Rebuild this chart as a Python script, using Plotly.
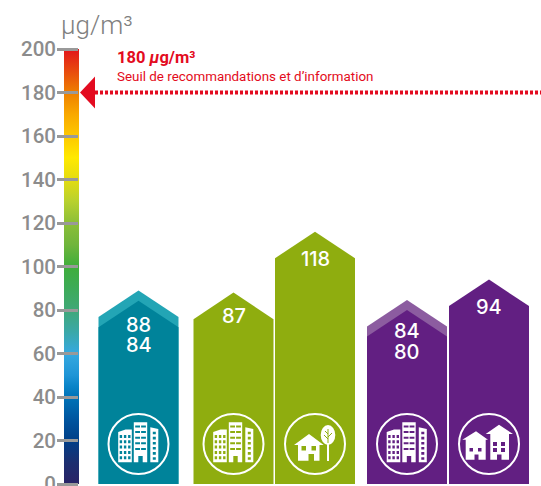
import plotly.graph_objects as go

# ---- data ----
tick_values = [0, 20, 40, 60, 80, 100, 120, 140, 160, 180, 200]
threshold = 180
unit_label = "µg/m³"
threshold_title = "180 <i>µ</i>g/m³"
threshold_text = "Seuil de recommandations et d’information"

bar_centers = [138.5, 233.5, 315, 407, 489]
bar_colors = ["#00839a", "#8fad0f", "#8fad0f", "#621f82", "#621f82"]
back_colors = ["#23a5b5", None, None, "#8c5ca0", None]
front_tops = [84.3, 88, 116, 80, 94]
back_tops = [89, None, None, 84.6, None]
label_rows = [["88", "84"], ["87"], ["118"], ["84", "80"], ["94"]]
label_px = [[325, 345], [316], [259], [331, 352], [307]]
icons = ["towers", "towers", "house_tree", "towers", "houses"]

grad_values = [0, 10, 20, 30, 40, 45, 50, 60, 70, 80, 90, 100, 110, 120, 130, 140, 150, 160, 170, 180, 200]
grad_colors = ["#2a2266", "#1c2f70", "#003f88", "#0056a0", "#0073b8", "#0a84c8", "#1f95d6", "#36a9e0",
               "#3aa8a8", "#40a878", "#3dab58", "#3fae3a", "#70b53c", "#8cbf38", "#b8d12e", "#e4dc10",
               "#ffe900", "#fdc800", "#f9a800", "#ee7f00", "#e2141c"]

# ---- geometry helpers ----
Y0 = 484.0
K = 2.175
W, H = 541, 486


def Yd(py):
    return (Y0 - py) / K


def poly(pts):
    return "M" + " L".join(f"{x:.2f},{Yd(y):.2f}" for x, y in pts) + " Z"


def rect(x0, y0, x1, y1):
    return poly([(x0, y0), (x1, y0), (x1, y1), (x0, y1)])


def shape_fill(path, color="white"):
    return dict(type="path", path=path, fillcolor=color, line=dict(width=0), layer="above",
                xref="x", yref="y")


def towers(cx, cy, bg):
    p = []
    # left building
    p.append(poly([(cx - 20.3, cy - 12), (cx - 13, cy - 14.5), (cx - 6.7, cy - 14.5),
                   (cx - 6.7, cy + 18.3), (cx - 20.3, cy + 18.3)]))
    for r in range(5):
        for c in range(3):
            x = cx - 18.8 + c * 4.2
            y = cy - 9 + r * 5.3
            p.append(rect(x, y, x + 2.4, y + 3.0))
    # middle building
    m = [(cx - 4.7, cy - 21.7), (cx + 8.7, cy - 21.7), (cx + 8.7, cy + 18.3), (cx + 4.2, cy + 18.3),
         (cx + 4.2, cy + 12), (cx - 0.2, cy + 12), (cx - 0.2, cy + 18.3), (cx - 4.7, cy + 18.3)]
    p.append(poly(m))
    for r in range(5):
        for c in range(2):
            x = cx - 3.3 + c * 5.9
            y = cy - 18.5 + r * 5.6
            p.append(rect(x, y, x + 4.8, y + 2.0))
    # right building
    p.append(poly([(cx + 11.8, cy - 16.7), (cx + 19.8, cy - 15), (cx + 19.8, cy + 18.3), (cx + 11.8, cy + 18.3)]))
    for r in range(6):
        y = cy - 12.3 + r * 5.1
        p.append(rect(cx + 14.3, y, cx + 17.3, y + 2.6))
    return [shape_fill(" ".join(p))]


def house_tree(cx, cy, bg):
    p = [poly([(cx - 6, cy - 10), (cx + 8.7, cy + 1), (cx + 4.5, cy + 1), (cx + 4.5, cy + 16.7), (cx - 1, cy + 16.7),
               (cx - 1, cy + 10), (cx - 6.5, cy + 10), (cx - 6.5, cy + 16.7), (cx - 17, cy + 16.7),
               (cx - 17, cy + 1), (cx - 21, cy + 1)]),
         rect(cx - 13.5, cy + 2, cx - 9, cy + 6.5), rect(cx - 3.5, cy + 2, cx + 1, cy + 6.5)]
    out = [shape_fill(" ".join(p))]
    out.append(dict(type="circle", x0=cx + 5.7, x1=cx + 20.3, y0=Yd(cy + 1), y1=Yd(cy - 19),
                    fillcolor="white", line=dict(width=0), layer="above"))
    out.append(shape_fill(rect(cx + 12, cy, cx + 14, cy + 17)))
    for a in [((13, -15), (13, -1)), ((13, -5), (9, -9)), ((13, -7), (17, -11)), ((13, -10), (10, -13))]:
        out.append(dict(type="line", x0=cx + a[0][0], y0=Yd(cy + a[0][1]), x1=cx + a[1][0], y1=Yd(cy + a[1][1]),
                        line=dict(color=bg, width=1), layer="above"))
    return out


def houses(cx, cy, bg):
    p = [poly([(cx - 13, cy - 12.7), (cx - 1, cy - 4.3), (cx - 3.3, cy - 4.3), (cx - 3.3, cy + 15.7),
               (cx - 10.5, cy + 15.7), (cx - 10.5, cy + 10.5), (cx - 14.5, cy + 10.5), (cx - 14.5, cy + 15.7),
               (cx - 23.3, cy + 15.7), (cx - 23.3, cy - 4.3), (cx - 26.7, cy - 4.3)]),
         rect(cx - 19.5, cy + 4, cx - 16, cy + 7.5), rect(cx - 11, cy + 4, cx - 7.5, cy + 7.5),
         poly([(cx + 10, cy - 19.3), (cx + 24, cy - 10), (cx + 20, cy - 10), (cx + 20, cy + 15.7),
               (cx + 12.5, cy + 15.7), (cx + 12.5, cy + 10.5), (cx + 8, cy + 10.5), (cx + 8, cy + 15.7),
               (cx + 1.3, cy + 15.7), (cx + 1.3, cy - 10), (cx - 3.3, cy - 10)]),
         rect(cx + 4, cy - 2, cx + 8, cy + 2), rect(cx + 12, cy - 2, cx + 16, cy + 2),
         rect(cx + 4, cy + 4, cx + 8, cy + 8), rect(cx + 12, cy + 4, cx + 16, cy + 8)]
    return [shape_fill(" ".join(p))]


ICON = dict(towers=towers, house_tree=house_tree, houses=houses)

fig = go.Figure()


def house_trace(c, top, color):
    x = [c - 40, c - 40, c, c + 40, c + 40, c - 40]
    y = [0, top - 12.2, top, top - 12.2, 0, 0]
    fig.add_trace(go.Scatter(x=x, y=y, mode="lines", line=dict(width=0), fill="toself",
                             fillcolor=color, hoverinfo="skip", showlegend=False))


# gradient scale
stops = [[v / 200, col] for v, col in zip(grad_values, grad_colors)]
fig.add_trace(go.Scatter(x=[64, 79, 79, 64, 64], y=[0, 0, 200, 200, 0], mode="lines", line=dict(width=0),
                         fill="toself", fillgradient=dict(type="vertical", colorscale=stops),
                         hoverinfo="skip", showlegend=False))

# bars
for c, col, bcol, ft, bt in zip(bar_centers, bar_colors, back_colors, front_tops, back_tops):
    if bcol:
        house_trace(c, bt, bcol)
    house_trace(c, ft, col)

# threshold
fig.add_trace(go.Scatter(x=[95, 541], y=[threshold, threshold], mode="lines",
                         line=dict(color="#e30b20", width=4, dash="3px,2px"), hoverinfo="skip", showlegend=False))
fig.add_trace(go.Scatter(x=[80, 95, 95, 80], y=[threshold, threshold + 7.4, threshold - 7.4, threshold],
                         mode="lines", line=dict(width=0), fill="toself", fillcolor="#e30b20",
                         hoverinfo="skip", showlegend=False))

annotations = []
for c, rows, pys in zip(bar_centers, label_rows, label_px):
    for t, py in zip(rows, pys):
        annotations.append(dict(x=c, y=Yd(py), text=t, showarrow=False, xanchor="center", yanchor="middle",
                                font=dict(family="Inter", size=20, color="white", weight=500)))
annotations += [
    dict(x=59, y=Yd(25), text=unit_label, showarrow=False, xanchor="left", yanchor="middle",
         font=dict(family="Roboto", size=26, color="#808080", weight=300)),
    dict(x=115, y=Yd(57), text=threshold_title, showarrow=False, xanchor="left", yanchor="middle",
         font=dict(family="Roboto", size=16.5, color="#e30b20", weight=700)),
    dict(x=115, y=Yd(76), text=threshold_text, showarrow=False, xanchor="left", yanchor="middle",
         font=dict(family="Roboto", size=13.4, color="#e30b20")),
]

shapes = []
for c, kind, col in zip(bar_centers, icons, bar_colors):
    cy = 444.0
    shapes.append(dict(type="circle", x0=c - 30, x1=c + 30, y0=Yd(cy + 30), y1=Yd(cy - 30),
                       line=dict(color="white", width=2), layer="above"))
    shapes += ICON[kind](c, cy, col)

fig.update_layout(
    width=W, height=H, margin=dict(l=57, r=0, t=0, b=0), paper_bgcolor="white", plot_bgcolor="white",
    showlegend=False, annotations=annotations, shapes=shapes,
    xaxis=dict(range=[57, 541], visible=True, showgrid=False, zeroline=False, showticklabels=False, ticks="",
               showline=True, linecolor="#d4d4d4", linewidth=3, automargin=False),
    yaxis=dict(range=[-2 / K, Y0 / K], tickvals=tick_values, ticks="inside", ticklen=21, tickwidth=2.5, tickcolor="#999999",
               showgrid=False, zeroline=False, showline=False, ticklabeloverflow="allow", automargin=False,
               tickfont=dict(family="Roboto", size=20.5, color="#8c8c8c", weight=500)),
)

fig.write_html("out.html", config=dict(displayModeBar=False), post_script="document.body.style.margin='0';")
